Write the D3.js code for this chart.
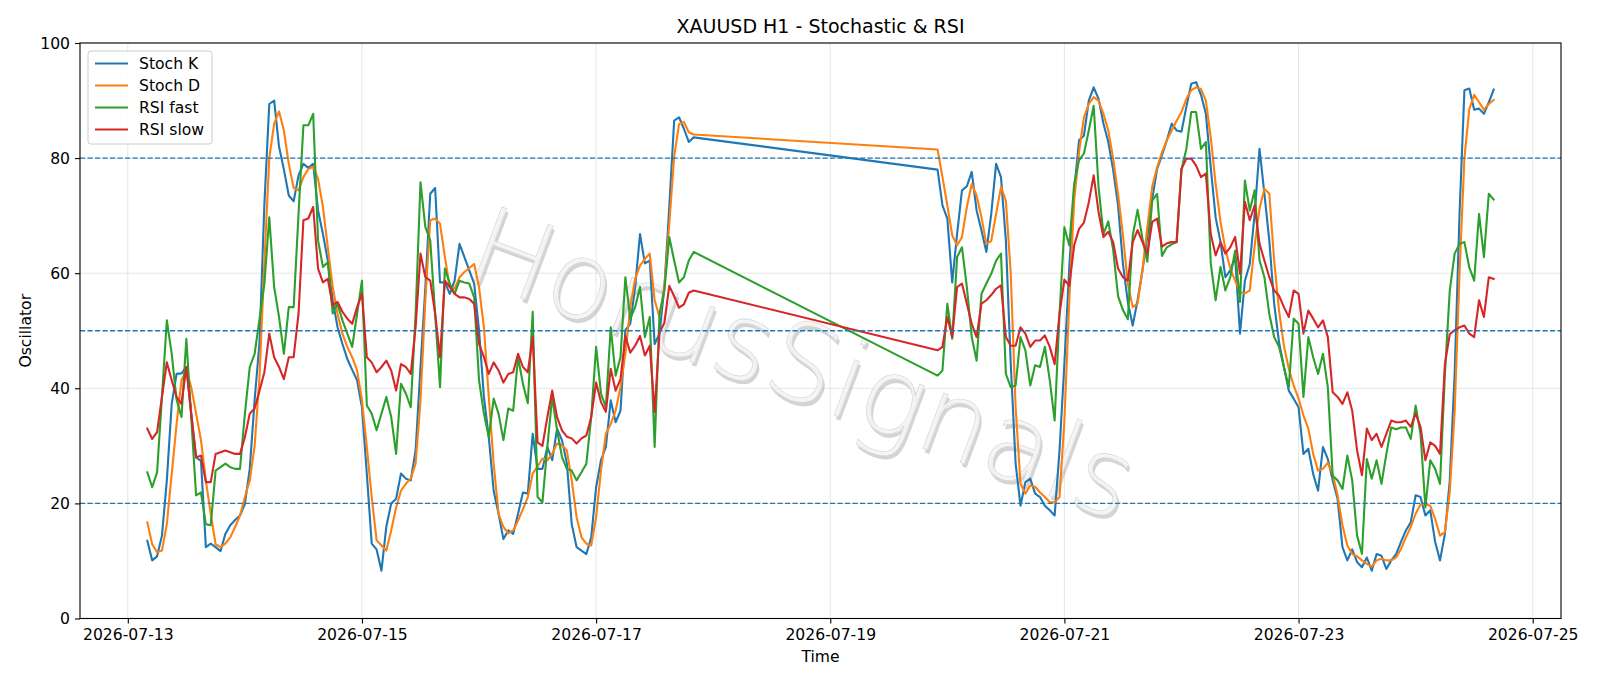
<!DOCTYPE html>
<html lang="en">
<head>
<meta charset="UTF-8">
<title>XAUUSD H1 - Stochastic & RSI</title>
<style>
  html, body { margin: 0; padding: 0; background: #fff; }
  body { font-family: "DejaVu Sans", sans-serif; }
  #chart { width: 1600px; height: 686px; }
</style>
</head>
<body>
<div id="chart"></div>
<script src="https://d3js.org/d3.v7.min.js"></script>
<script>
// trading sessions (hourly bars, UTC), weekend gap in between
const sessions = [
  ["2026-07-13T04:00", "2026-07-17T20:00"],
  ["2026-07-19T22:00", "2026-07-24T16:00"]
];

const stochK = [
  13.5, 10.1, 10.8, 14.4, 24, 37.3, 42.5, 42.6, 43.7, 35.6,
  28, 27.4, 12.4, 13, 12.4, 11.7, 14.7, 16.2, 17.1, 17.9,
  19.9, 26, 38, 48, 72, 89.4, 90, 82, 78, 73.5,
  72.5, 77, 79, 78.3, 79, 70.9, 66.8, 62.2, 55.3, 50.6,
  47.7, 45.1, 43.2, 41.4, 36.7, 25.1, 13, 12, 8.3, 16,
  20, 20.8, 25.2, 24.3, 24, 29.2, 43.7, 57.6, 73.8, 74.8,
  58.4, 58.4, 56.4, 58.7, 65.1, 62.8, 60.5, 58.2, 50.1, 38.5,
  31.5, 22.2, 18.2, 13.8, 15.3, 14.7, 18.2, 21.9, 21.7, 32.1,
  26, 26, 29.8, 27.5, 33, 31, 27, 16.4, 12.4, 11.8,
  11.2, 14.1, 22.8, 27.5, 29.8, 37.9, 34.1, 36.1, 50.1, 51.2,
  57.6, 66.8, 61.7, 62.2, 47.7, 49.5, 57.6, 71.5, 86.5, 87.1,
  85.1, 82.8, 83.6,
  78, 71.8, 69.5, 58.4, 66.8, 74.4, 75.1, 77.6, 70.9, 67.4,
  63.7, 70.3, 79, 76.7, 65.7, 44.3, 26.9, 19.6, 23.7, 24.3,
  21.7, 21.1, 19.6, 18.8, 17.9, 29.2, 44.3, 61.1, 74.4, 83.1,
  83.9, 90, 92.3, 90.3, 86, 82.8, 77.9, 71.8, 61.6, 55,
  50.9, 55.3, 60.5, 66.3, 72.9, 78.1, 80.5, 83.1, 86, 84.8,
  84.6, 88.9, 92.9, 93.2, 91, 87.7, 78.4, 69.7, 65.4, 59.3,
  60.5, 62.8, 49.5, 58.7, 61.6, 70.3, 81.6, 73.8, 65.7, 54.7,
  48, 43.7, 39.6, 38.2, 36.7, 28.6, 29.5, 25.1, 22.2, 29.8,
  27.7, 24, 20.8, 12.4, 10.1, 12, 9.8, 8.9, 10.6, 8.3,
  11.2, 10.9, 8.6, 10.1, 11.2, 13.3, 15.3, 16.7, 21.4, 21.1,
  17.9, 18.8, 13.3, 10.1, 14.7, 24, 42.6, 70.3, 91.8, 92.1,
  88.4, 88.6, 87.7, 89.7, 91.9
];

const stochD = [
  16.7, 12.9, 11.5, 11.8, 16.4, 25.1, 33.8, 41.4, 43.1, 40.2,
  35.6, 31, 24, 18.2, 12.9, 12.4, 13, 14.1, 15.9, 17.9,
  21.1, 24, 30, 42, 62, 80, 86, 88.1, 84.8, 79,
  74.8, 74.4, 76.7, 78.1, 78.5, 76.4, 71.5, 64.5, 57.6, 52.9,
  49.5, 47.2, 45.4, 43.1, 37.9, 29.8, 21.1, 13.6, 12.7, 11.8,
  15.3, 19.3, 22.2, 23.4, 24.3, 26.9, 37.9, 55.3, 69.2, 69.5,
  68.6, 62.8, 57.6, 57.3, 59.3, 60.2, 60.9, 61.6, 57.6, 50.6,
  38.5, 26.9, 18.2, 15.9, 14.8, 15.3, 17, 19, 21.1, 25.2,
  26.4, 27.8, 27.5, 28.6, 30.4, 30.1, 29.2, 24, 17.6, 14.1,
  13, 12.7, 17.6, 25.7, 32.1, 33.8, 36.1, 40.2, 46, 54.1,
  59, 61.3, 62.5, 63.4, 55.3, 52.4, 57.6, 68.6, 80.2, 85.9,
  86.3, 84.5, 84.1,
  81.5, 76.7, 71.8, 66.6, 64.8, 66.3, 71.5, 75.5, 73.5, 69.7,
  65.1, 65.6, 70.3, 75, 72.6, 59.9, 36.7, 23.4, 21.7, 23.1,
  22.9, 21.9, 21.1, 20.2, 20.2, 21.1, 34.4, 55.3, 72.6, 81,
  87.1, 89.4, 90.6, 90, 87.7, 84.8, 79.9, 73.8, 66.6, 58.2,
  54.1, 54.7, 60.5, 68, 75, 78.4, 81, 83.1, 84.8, 86.5,
  88, 90.3, 91.8, 92.3, 92, 90, 83.6, 75.5, 68.9, 64.2,
  60.8, 58.7, 56.7, 56.5, 57, 64.8, 71.2, 74.7, 73.8, 62.2,
  53.5, 47.4, 43.4, 40.5, 38.2, 35.3, 33, 28.6, 25.7, 26,
  27.1, 25.1, 21.4, 16.2, 12.7, 11.2, 10.8, 10.1, 9.5, 9,
  10.1, 10.4, 10.1, 10.1, 10.6, 12.1, 14.1, 15.9, 18.2, 19.8,
  19.9, 19.6, 17.3, 14.4, 15, 22, 36, 60, 80, 88.5,
  91, 89.7, 88.4, 89.4, 90.1
];

const rsiFast = [
  25.4, 22.8, 25.4, 38.5, 51.8, 46, 38, 35, 48.6, 35,
  21.4, 21.9, 16.4, 16.2, 25.7, 26.3, 26.9, 26.3, 26, 26,
  35.6, 43.7, 46, 52, 58.2, 69.7, 57.6, 52.4, 46, 54.1,
  54.1, 70.3, 85.7, 85.7, 87.7, 65.7, 61.1, 61.9, 53, 54.7,
  51.8, 49.5, 47.2, 52.9, 58.7, 37, 35.6, 32.7, 35.6, 38.5,
  35, 28.6, 40.8, 39.1, 36.7, 52.9, 75.8, 68, 65.7, 53,
  40.2, 60.8, 58.2, 56.4, 58.7, 58.4, 58.2, 55.8, 41.4, 35.6,
  31.5, 38.2, 35.6, 31, 36.5, 36.1, 45.4, 40.8, 37.4, 53.3,
  21.1, 20.2, 29.8, 38.5, 32.7, 28.1, 26, 25.7, 24, 25.4,
  26.9, 35, 47.2, 39.1, 36.7, 50.6, 42.2, 45.4, 59.3, 52.1,
  54.1, 57.6, 48.9, 52.4, 29.8, 53, 57, 66.3, 62.2, 58.4,
  59.3, 62.2, 63.7,
  42.2, 43.1, 54.7, 48.6, 62.8, 64.5, 57.6, 48.9, 44.8, 56.4,
  58.2, 59.9, 62.2, 63.4, 42.5, 40.2, 40.5, 48.9, 46.6, 40.5,
  44, 43.7, 47.2, 41.4, 34.4, 52.9, 68, 64.8, 75.5, 79.6,
  80.8, 84.8, 89.1, 75, 66.8, 69, 64, 56, 53.6, 52,
  66.5, 71, 66, 62, 72.6, 73.8, 63, 64.5, 65, 65.4,
  78, 81.6, 88, 88, 81.6, 82.8, 61.7, 55.3, 61.1, 57,
  59.3, 63.9, 55, 76.1, 70.9, 74.4, 62.2, 59.3, 52.9, 48.9,
  47.2, 43.7, 40.2, 52.1, 51.2, 38.5, 48.9, 45.4, 42.5, 46,
  40.2, 24.8, 24, 22.5, 28.3, 24, 14.4, 11.2, 27.7, 24.3,
  27.5, 23.4, 28.6, 33.2, 32.9, 33.2, 33.2, 31.2, 37, 32.1,
  19.3, 27.5, 26, 23.4, 42.5, 57, 63.4, 65.1, 65.4, 61,
  58.7, 70.3, 62.8, 73.8, 72.8
];

const rsiSlow = [
  33, 31.2, 32.4, 38.5, 44.5, 41.4, 38.5, 37.3, 43.7, 35.6,
  28, 28.3, 23.7, 23.7, 28.6, 28.9, 29.2, 28.9, 28.6, 28.6,
  31.5, 35.6, 36.5, 39.6, 42.8, 49.5, 45.4, 43.7, 41.6, 45.4,
  45.4, 53, 69.2, 69.5, 71.5, 60.8, 58.4, 59, 54.4, 55,
  53.3, 52.1, 51.2, 54.1, 56.4, 45.4, 44.5, 42.8, 43.7, 44.8,
  43.1, 39.6, 44.2, 43.7, 42.5, 50.6, 63.4, 59.3, 58.7, 53,
  45.4, 58.7, 57.6, 56.4, 55.8, 55.8, 55.5, 54.7, 47.7, 45.4,
  42.5, 44.5, 43.1, 41, 42.5, 42.8, 46, 43.7, 42.8, 48.9,
  30.6, 30, 35, 39.6, 35, 32.7, 31.6, 31.3, 30.4, 31.3,
  31.8, 35, 41, 37.6, 35.9, 43.4, 39.6, 41.6, 49.1, 46.2,
  47.4, 49.1, 45.7, 47.4, 35.9, 49.7, 51.4, 57.8, 56, 54,
  54.6, 56.6, 57,
  46.6, 47.2, 52.4, 48.9, 57.6, 58.2, 54.7, 51.2, 48.9, 54.7,
  55.3, 56.2, 57.3, 57.9, 48.9, 47.4, 47.4, 50.6, 49.5, 47.2,
  48.3, 48.3, 49.2, 47.2, 44.2, 53, 58.9, 57.8, 64.8, 67.7,
  68.8, 72.3, 77, 70.6, 66.3, 67.2, 65.4, 60.8, 59.3, 58.7,
  65.4, 67.5, 65.4, 63.4, 68.9, 69.5, 64.6, 65.2, 65.4, 65.4,
  78.1, 79.9, 79.9, 78.7, 76.7, 77.3, 66.8, 63.1, 65.4, 63.4,
  64.5, 66.3, 59.9, 72.4, 69.2, 71.8, 65.1, 62.2, 59.3, 57,
  56.1, 54.1, 52.4, 57, 56.4, 49.5, 53.5, 52.1, 50.6, 51.8,
  48.9, 39.3, 38.5, 37.3, 39.3, 36.1, 29.2, 24.9, 33, 31,
  32.1, 29.8, 32.1, 34.4, 34.1, 34.1, 34.4, 33.3, 35.6, 33.3,
  27.5, 30.6, 30, 28.6, 44.2, 49.4, 50.1, 50.6, 50.9, 49.5,
  48.9, 55.3, 52.4, 59.3, 59
];

const levels = [80, 50, 20];
const yTicks = [0, 20, 40, 60, 80, 100];

const series = [
  {name: "Stoch K", values: stochK, color: "#1f77b4"},
  {name: "Stoch D", values: stochD, color: "#ff7f0e"},
  {name: "RSI fast", values: rsiFast, color: "#2ca02c"},
  {name: "RSI slow", values: rsiSlow, color: "#d62728"}
];

// build the hourly time axis from the sessions
const parse = d3.utcParse("%Y-%m-%dT%H:%M");
let times = [];
sessions.forEach(s => {
  const a = parse(s[0]), b = parse(s[1]);
  times = times.concat(d3.utcHour.range(a, d3.utcHour.offset(b, 1)));
});

const W = 1600, H = 686;
const margin = {top: 43, right: 39, bottom: 67.5, left: 80};
const width = W - margin.left - margin.right;
const height = H - margin.top - margin.bottom;
const fs = "15.6px";

const svg = d3.select("#chart").append("svg")
  .attr("width", W).attr("height", H)
  .style("font-family", "'DejaVu Sans', sans-serif");

const g = svg.append("g")
  .attr("transform", "translate(" + margin.left + "," + margin.top + ")");

// matplotlib style 5% margins on x
const t0 = times[0], t1 = times[times.length - 1];
const pad = (t1 - t0) * 0.05;
const x = d3.scaleUtc()
  .domain([new Date(+t0 - pad), new Date(+t1 + pad)])
  .range([0, width]);
const y = d3.scaleLinear().domain([0, 100]).range([height, 0]);

const xTicks = d3.utcDay.every(2).range(x.domain()[0], x.domain()[1]);

// grid
g.append("g").selectAll("line").data(xTicks).enter().append("line")
  .attr("x1", d => x(d)).attr("x2", d => x(d))
  .attr("y1", 0).attr("y2", height)
  .attr("stroke", "#b0b0b0").attr("stroke-opacity", 0.3).attr("stroke-width", 1);
g.append("g").selectAll("line").data(yTicks).enter().append("line")
  .attr("x1", 0).attr("x2", width)
  .attr("y1", d => y(d)).attr("y2", d => y(d))
  .attr("stroke", "#b0b0b0").attr("stroke-opacity", 0.3).attr("stroke-width", 1);

// watermark
const wm = g.append("g")
  .attr("transform", "translate(" + (x(parse("2026-07-19T00:00")) - 40) + "," + (y(50) + 68) + ") rotate(20.5)");
wm.append("text")
  .attr("x", 3).attr("y", 3)
  .attr("text-anchor", "middle")
  .attr("font-size", 108).attr("font-weight", 200)
  .attr("fill", "#a0a0a0").attr("fill-opacity", 0.45)
  .text("HorusSignals");
wm.append("text")
  .attr("text-anchor", "middle")
  .attr("font-size", 108).attr("font-weight", 200)
  .attr("fill", "#f4f4f4").attr("fill-opacity", 0.9)
  .attr("stroke", "#d4d4d4").attr("stroke-width", 0.6)
  .text("HorusSignals");

// series lines
const line = d3.line()
  .x((d, i) => x(times[i]))
  .y(d => y(d));

series.forEach(s => {
  g.append("path")
    .datum(s.values.slice(0, times.length))
    .attr("fill", "none")
    .attr("stroke", s.color)
    .attr("stroke-width", 2.1)
    .attr("stroke-linejoin", "round")
    .attr("stroke-linecap", "square")
    .attr("d", line);
});

// reference levels
g.append("g").selectAll("line").data(levels).enter().append("line")
  .attr("x1", 0).attr("x2", width)
  .attr("y1", d => y(d)).attr("y2", d => y(d))
  .attr("stroke", "#1f77b4").attr("stroke-width", 1.4)
  .attr("stroke-dasharray", "5.2,2.3");

// axes
const xAxis = g.append("g")
  .attr("transform", "translate(0," + height + ")")
  .call(d3.axisBottom(x).tickValues(xTicks).tickFormat(d3.utcFormat("%Y-%m-%d")).tickSizeOuter(0).tickSize(5).tickPadding(5));
const yAxis = g.append("g")
  .call(d3.axisLeft(y).tickValues(yTicks).tickSizeOuter(0).tickSize(5).tickPadding(5));
[xAxis, yAxis].forEach(a => {
  a.select(".domain").remove();
  a.selectAll(".tick line").attr("stroke", "#000").attr("stroke-width", 1.1);
  a.selectAll(".tick text").attr("fill", "#000").style("font-size", fs)
    .style("font-family", "'DejaVu Sans', sans-serif");
});

// frame
g.append("rect")
  .attr("x", 0).attr("y", 0).attr("width", width).attr("height", height)
  .attr("fill", "none").attr("stroke", "#000").attr("stroke-width", 1.1);

// title and labels
svg.append("text")
  .attr("x", margin.left + width / 2).attr("y", 33)
  .attr("text-anchor", "middle").style("font-size", "19px")
  .text("XAUUSD H1 - Stochastic & RSI");
svg.append("text")
  .attr("x", margin.left + width / 2).attr("y", 662)
  .attr("text-anchor", "middle").style("font-size", fs)
  .text("Time");
svg.append("text")
  .attr("transform", "translate(31," + (margin.top + height / 2) + ") rotate(-90)")
  .attr("text-anchor", "middle").style("font-size", fs)
  .text("Oscillator");

// legend
const lg = svg.append("g").attr("transform", "translate(88,51)");
lg.append("rect")
  .attr("width", 124).attr("height", 93).attr("rx", 3)
  .attr("fill", "#fff").attr("fill-opacity", 0.8)
  .attr("stroke", "#cccccc").attr("stroke-width", 1);
series.forEach((s, i) => {
  const row = lg.append("g").attr("transform", "translate(0," + (12.5 + i * 22) + ")");
  row.append("line")
    .attr("x1", 7).attr("x2", 40).attr("y1", 0).attr("y2", 0)
    .attr("stroke", s.color).attr("stroke-width", 2.1);
  row.append("text")
    .attr("x", 51).attr("y", 5.5)
    .style("font-size", fs)
    .text(s.name);
});
</script>
</body>
</html>
